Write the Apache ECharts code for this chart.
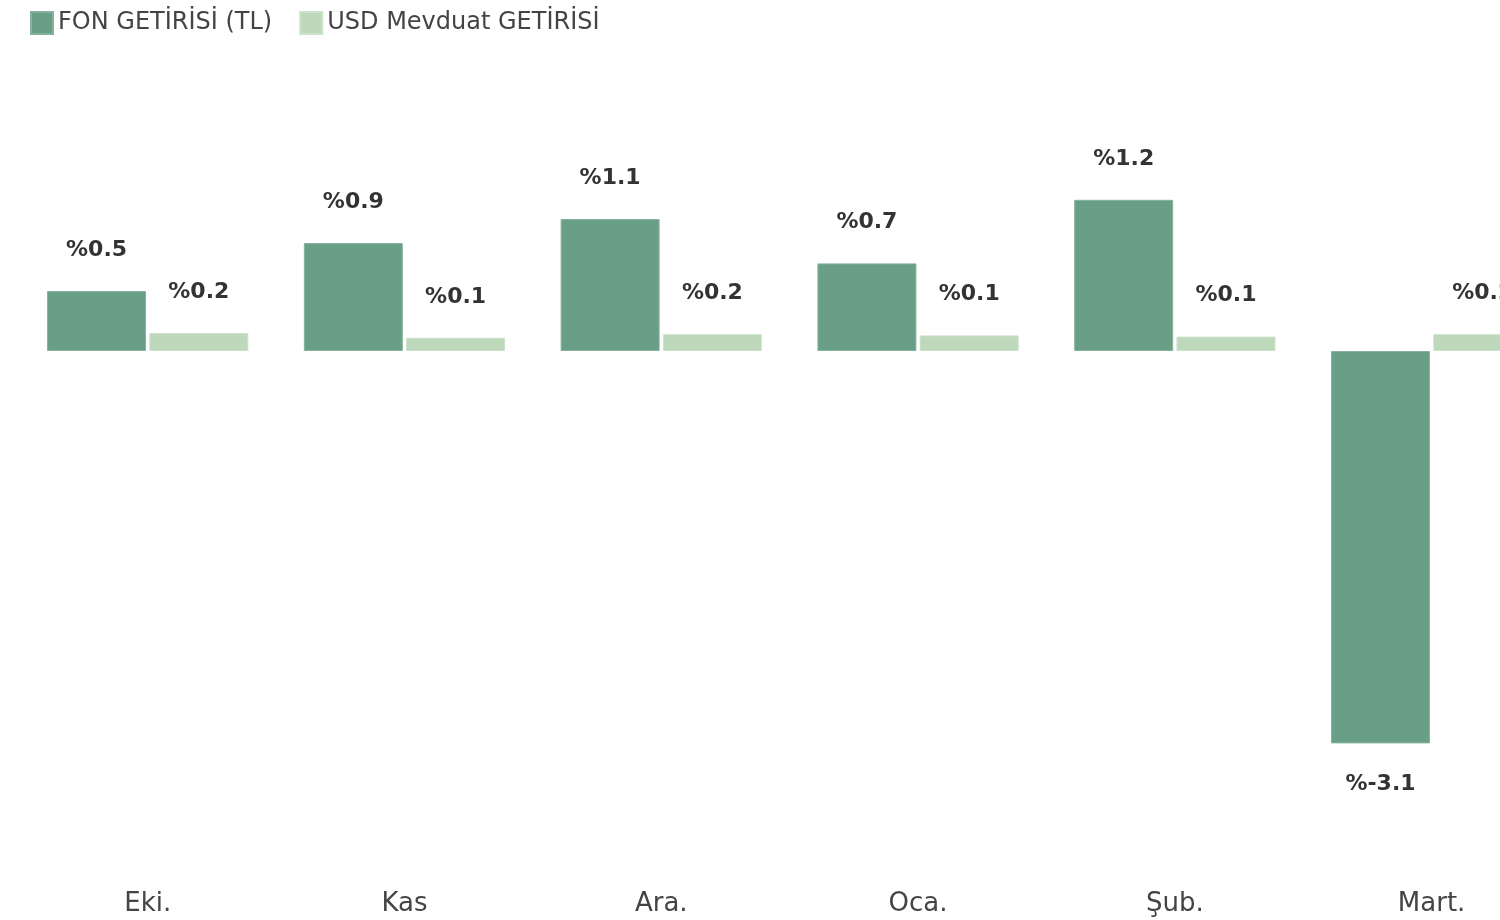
<!DOCTYPE html>
<html>
<head>
<meta charset="utf-8">
<script src="https://cdn.jsdelivr.net/npm/echarts@6/dist/echarts.min.js"></script>
<style>
html,body{margin:0;padding:0;background:#fff;overflow:hidden;width:1500px;height:920px;}
#chart{width:1561px;height:920px;}
</style>
</head>
<body>
<div id="chart"></div>
<script>
const categories = ['Eki.', 'Kas', 'Ara.', 'Oca.', 'Şub.', 'Mart.'];
const seriesNames = ['FON GETİRİSİ (TL)', 'USD Mevduat GETİRİSİ'];
const fonValues = [0.5, 0.9, 1.1, 0.73, 1.26, -3.27];
const usdValues = [0.15, 0.11, 0.14, 0.13, 0.12, 0.14];
const fonLabelValues = [0.5, 0.9, 1.1, 0.7, 1.2, -3.1];
const usdLabelValues = [0.2, 0.1, 0.2, 0.1, 0.1, 0.2];

const FONT = 'DejaVu Sans';
const COLORS = ['#6a9f87', '#bdd8bb'];
const BORDERS = ['#86b29d', '#cde2cb'];

function buildData(values, labels) {
  return values.map((v, i) => ({
    value: v,
    label: {
      position: v < 0 ? 'bottom' : 'top',
      distance: v < 0 ? 30 : 30,
      formatter: '%' + labels[i]
    }
  }));
}

const chart = echarts.init(document.getElementById('chart'), null, {renderer: 'canvas'});
chart.setOption({
  animation: false,
  backgroundColor: '#fff',
  textStyle: {fontFamily: FONT},
  legend: {
    left: 25,
    top: 6,
    icon: 'rect',
    itemWidth: 22,
    itemHeight: 22,
    itemGap: 27,
    textStyle: {fontFamily: FONT, fontSize: 24, color: '#444', padding: [3, 0, 0, 0]},
    data: seriesNames
  },
  grid: {left: 19.3, right: 1, top: 111, bottom: 89, containLabel: false},
  xAxis: {
    type: 'category',
    data: categories,
    axisLine: {show: false, onZero: false},
    axisTick: {show: false},
    axisLabel: {fontFamily: FONT, fontSize: 26, color: '#444', margin: 60}
  },
  yAxis: {
    type: 'value',
    min: -4,
    max: 2,
    interval: 1,
    show: false,
    splitLine: {show: false}
  },
  series: [
    {
      name: seriesNames[0],
      type: 'bar',
      barWidth: 99,
      barGap: '3.3%',
      itemStyle: {color: COLORS[0], borderColor: BORDERS[0], borderWidth: 1},
      label: {show: true, fontFamily: FONT, fontSize: 22, fontWeight: 'bold', color: '#333'},
      data: buildData(fonValues, fonLabelValues)
    },
    {
      name: seriesNames[1],
      type: 'bar',
      barWidth: 99,
      barGap: '3.3%',
      itemStyle: {color: COLORS[1], borderColor: BORDERS[1], borderWidth: 1},
      label: {show: true, fontFamily: FONT, fontSize: 22, fontWeight: 'bold', color: '#333'},
      data: buildData(usdValues, usdLabelValues)
    }
  ]
});
</script>
</body>
</html>
